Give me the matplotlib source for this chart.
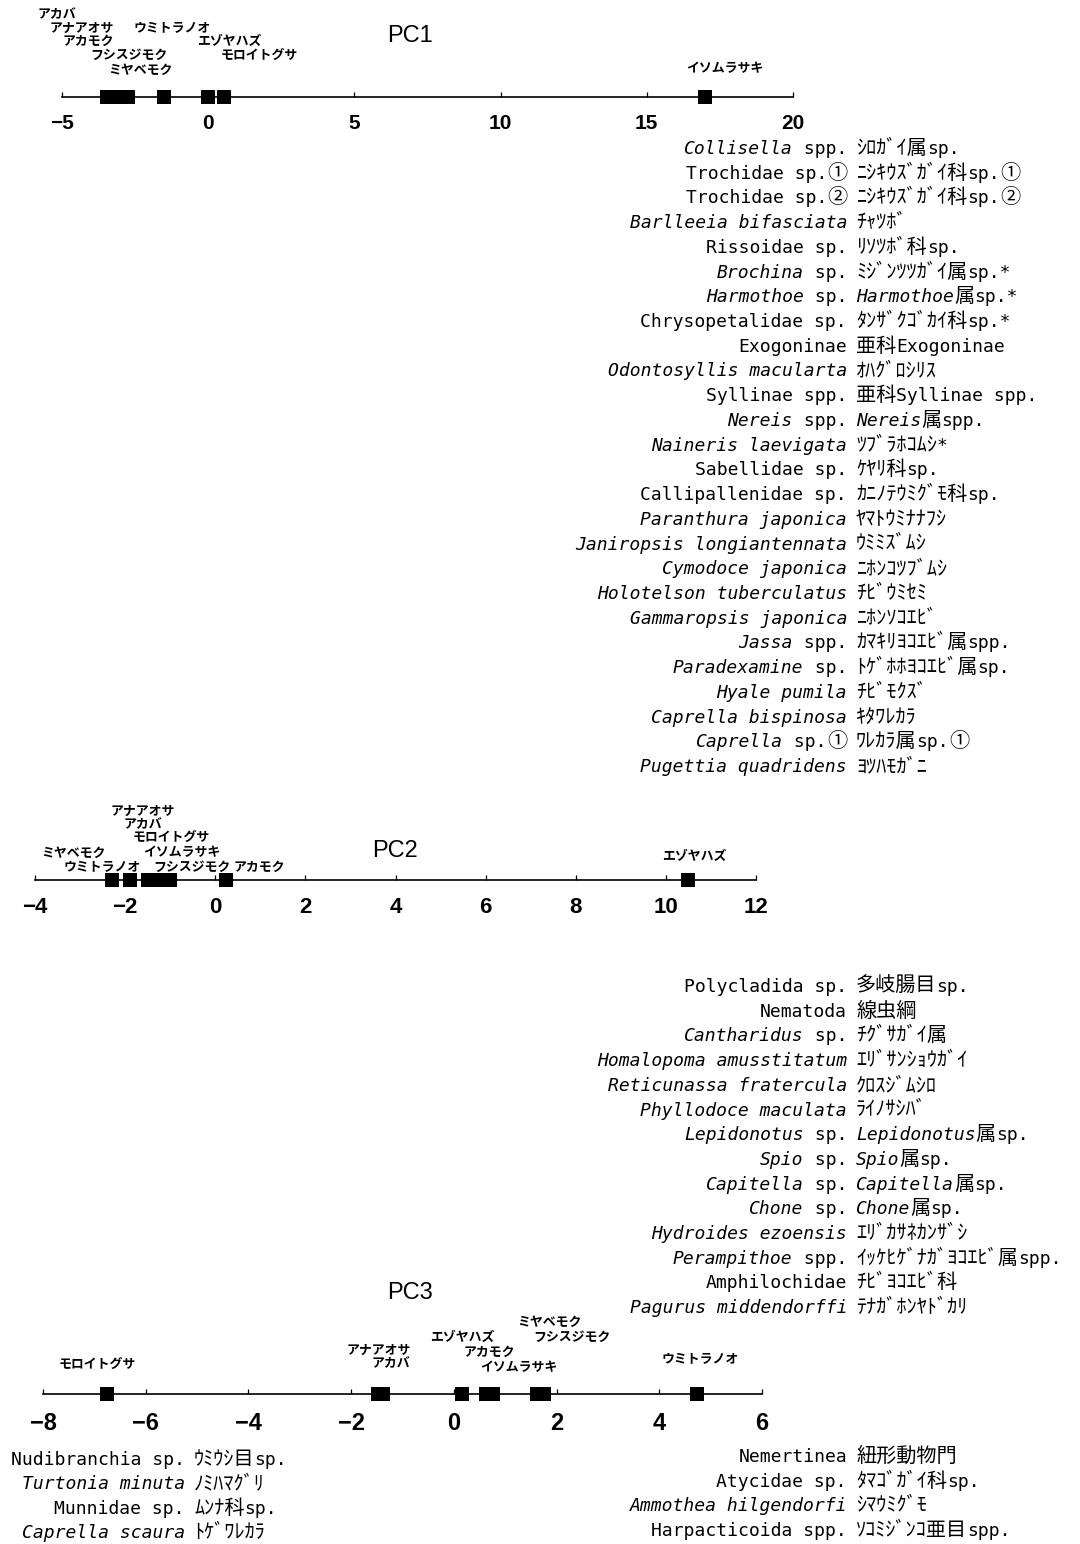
from itertools import groupby

import numpy as np
import matplotlib
matplotlib.use('Agg')
import matplotlib.pyplot as plt
from matplotlib.font_manager import FontProperties

W, H = 1080, 1544

# site scores on each principal component
pc1_sites = ['アカバ', 'アナアオサ', 'アカモク', 'フシスジモク', 'ミヤベモク',
             'ウミトラノオ', 'エゾヤハズ', 'モロイトグサ', 'イソムラサキ']
pc1_scores = [-3.45, -3.3, -3.1, -2.9, -2.75, -1.5, 0.0, 0.55, 17.0]

pc2_sites = ['ミヤベモク', 'ウミトラノオ', 'アナアオサ', 'アカバ', 'モロイトグサ',
             'イソムラサキ', 'フシスジモク', 'アカモク', 'エゾヤハズ']
pc2_scores = [-2.3, -1.9, -1.5, -1.4, -1.25, -1.1, -1.0, 0.23, 10.5]

pc3_sites = ['モロイトグサ', 'アナアオサ', 'アカバ', 'エゾヤハズ', 'アカモク',
             'イソムラサキ', 'ミヤベモク', 'フシスジモク', 'ウミトラノオ']
pc3_scores = [-6.75, -1.47, -1.38, 0.16, 0.62, 0.76, 1.62, 1.75, 4.74]

# species correlated with each axis: scientific name / Japanese name,
# italic parts are wrapped in underscores
pc1_species = [
    ('_Collisella_ spp.', 'ｼﾛｶﾞｲ属sp.'),
    ('Trochidae sp.①', 'ﾆｼｷｳｽﾞｶﾞｲ科sp.①'),
    ('Trochidae sp.②', 'ﾆｼｷｳｽﾞｶﾞｲ科sp.②'),
    ('_Barlleeia bifasciata_', 'ﾁｬﾂﾎﾞ'),
    ('Rissoidae sp.', 'ﾘｿﾂﾎﾞ科sp.'),
    ('_Brochina_ sp.', 'ﾐｼﾞﾝﾂﾂｶﾞｲ属sp.*'),
    ('_Harmothoe_ sp.', '_Harmothoe_属sp.*'),
    ('Chrysopetalidae sp.', 'ﾀﾝｻﾞｸｺﾞｶｲ科sp.*'),
    ('Exogoninae', '亜科Exogoninae'),
    ('_Odontosyllis macularta_', 'ｵﾊｸﾞﾛｼﾘｽ'),
    ('Syllinae spp.', '亜科Syllinae spp.'),
    ('_Nereis_ spp.', '_Nereis_属spp.'),
    ('_Naineris laevigata_', 'ﾂﾌﾞﾗﾎｺﾑｼ*'),
    ('Sabellidae sp.', 'ｹﾔﾘ科sp.'),
    ('Callipallenidae sp.', 'ｶﾆﾉﾃｳﾐｸﾞﾓ科sp.'),
    ('_Paranthura japonica_', 'ﾔﾏﾄｳﾐﾅﾅﾌｼ'),
    ('_Janiropsis longiantennata_', 'ｳﾐﾐｽﾞﾑｼ'),
    ('_Cymodoce japonica_', 'ﾆﾎﾝｺﾂﾌﾞﾑｼ'),
    ('_Holotelson tuberculatus_', 'ﾁﾋﾞｳﾐｾﾐ'),
    ('_Gammaropsis japonica_', 'ﾆﾎﾝｿｺｴﾋﾞ'),
    ('_Jassa_ spp.', 'ｶﾏｷﾘﾖｺｴﾋﾞ属spp.'),
    ('_Paradexamine_ sp.', 'ﾄｹﾞﾎﾎﾖｺｴﾋﾞ属sp.'),
    ('_Hyale pumila_', 'ﾁﾋﾞﾓｸｽﾞ'),
    ('_Caprella bispinosa_', 'ｷﾀﾜﾚｶﾗ'),
    ('_Caprella_ sp.①', 'ﾜﾚｶﾗ属sp.①'),
    ('_Pugettia quadridens_', 'ﾖﾂﾊﾓｶﾞﾆ'),
]

pc3_pos_species = [
    ('Polycladida sp.', '多岐腸目sp.'),
    ('Nematoda', '線虫綱'),
    ('_Cantharidus_ sp.', 'ﾁｸﾞｻｶﾞｲ属'),
    ('_Homalopoma amusstitatum_', 'ｴﾘﾞｻﾝｼｮｳｶﾞｲ'),
    ('_Reticunassa fratercula_', 'ｸﾛｽｼﾞﾑｼﾛ'),
    ('_Phyllodoce maculata_', 'ﾗｲﾉｻｼﾊﾞ'),
    ('_Lepidonotus_ sp.', '_Lepidonotus_属sp.'),
    ('_Spio_ sp.', '_Spio_属sp.'),
    ('_Capitella_ sp.', '_Capitella_属sp.'),
    ('_Chone_ sp.', '_Chone_属sp.'),
    ('_Hydroides ezoensis_', 'ｴﾘﾞｶｻﾈｶﾝｻﾞｼ'),
    ('_Perampithoe_ spp.', 'ｲｯｹﾋｹﾞﾅｶﾞﾖｺｴﾋﾞ属spp.'),
    ('Amphilochidae', 'ﾁﾋﾞﾖｺｴﾋﾞ科'),
    ('_Pagurus middendorffi_', 'ﾃﾅｶﾞﾎﾝﾔﾄﾞｶﾘ'),
]

pc3_neg_species = [
    ('Nudibranchia sp.', 'ｳﾐｳｼ目sp.'),
    ('_Turtonia minuta_', 'ﾉﾐﾊﾏｸﾞﾘ'),
    ('Munnidae sp.', 'ﾑﾝﾅ科sp.'),
    ('_Caprella scaura_', 'ﾄｹﾞﾜﾚｶﾗ'),
]

pc3_pos2_species = [
    ('Nemertinea', '紐形動物門'),
    ('Atycidae sp.', 'ﾀﾏｺﾞｶﾞｲ科sp.'),
    ('_Ammothea hilgendorfi_', 'ｼﾏｳﾐｸﾞﾓ'),
    ('Harpacticoida spp.', 'ｿｺﾐｼﾞﾝｺ亜目spp.'),
]

# label placement around each marker: (dx, dy) in pixels
pc1_offsets = [(-50, 83), (-30, 69), (-29, 56), (6, 42), (13, 27),
               (8, 69), (21, 56), (35, 42), (20, 29)]
pc2_offsets = [(-38, 27), (-27, 13), (-5, 69), (-9, 56), (12, 43),
               (16, 28), (22, 13), (34, 13), (6, 24)]
pc3_offsets = [(-10, 30), (0, 44), (8, 31), (0, 57), (4, 42),
               (26, 27), (12, 72), (28, 57), (3, 35)]

TICK_FONT = ['Liberation Sans Narrow', 'Liberation Sans', 'DejaVu Sans']
LABEL_FONT = ['Noto Sans CJK JP', 'DejaVu Sans']
LATIN_FONT = 'DejaVu Sans Mono'
CJK_FONT = 'Noto Sans CJK JP'

fig = plt.figure(figsize=(W / 100, H / 100), dpi=100, facecolor='white')


def draw_axis(y, left, right, lims, step, sites, scores, offsets,
              title, title_xy, tick_size, pad):
    ax = fig.add_axes([left / W, 1 - y / H, (right - left) / W, 0.02])
    ax.set_xlim(*lims)
    ax.set_ylim(0, 1)
    ax.patch.set_visible(False)
    for side in ('top', 'left', 'right'):
        ax.spines[side].set_visible(False)
    ax.spines['bottom'].set_linewidth(1.2)
    ax.set_yticks([])
    ax.set_xticks(np.arange(lims[0], lims[1] + step, step))
    ax.tick_params(axis='x', direction='in', length=3.8, width=0.9,
                   pad=pad, labelsize=tick_size)
    for lab in ax.get_xticklabels():
        lab.set_family(TICK_FONT)
        lab.set_fontweight('bold')
    ax.plot(scores, np.zeros(len(scores)), 's', ms=10, mew=0,
            color='black', clip_on=False, zorder=3)
    for name, score, (dx, dy) in zip(sites, scores, offsets):
        ax.annotate(name, xy=(score, 0), xytext=(dx, dy),
                    textcoords='offset pixels', ha='center', va='center',
                    fontsize=9.3, family=LABEL_FONT, fontweight='bold')
    fig.text(title_xy[0] / W, 1 - title_xy[1] / H, title, ha='center',
             va='center', fontsize=17, family=['Liberation Sans', 'DejaVu Sans'])
    return ax


draw_axis(97, 62, 793, (-5, 20), 5, pc1_sites, pc1_scores, pc1_offsets,
          'PC1', (410, 36), 15, 12.5)
draw_axis(880, 35, 756, (-4, 12), 2, pc2_sites, pc2_scores, pc2_offsets,
          'PC2', (395, 851), 16, 12.5)
draw_axis(1394, 43, 762, (-8, 6), 2, pc3_sites, pc3_scores, pc3_offsets,
          'PC3', (410, 1293), 17, 13)

# overlay in pixel coordinates for the species lists
txt = fig.add_axes([0, 0, 1, 1])
txt.set_xlim(0, W)
txt.set_ylim(H, 0)
txt.axis('off')
txt.patch.set_visible(False)

renderer = fig.canvas.get_renderer()


def font_for(italic, cjk):
    if cjk:
        return FontProperties(family=CJK_FONT, size=14.5)
    return FontProperties(family=LATIN_FONT, size=13,
                          style='italic' if italic else 'normal')


def split_runs(label):
    runs = []
    for i, part in enumerate(label.split('_')):
        italic = i % 2 == 1
        for cjk, chunk in groupby(part, key=lambda c: ord(c) > 127):
            runs.append((''.join(chunk), font_for(italic, cjk)))
    return runs


def run_width(s, prop):
    w1, _, _ = renderer.get_text_width_height_descent('|' + s + '|', prop, ismath=False)
    w0, _, _ = renderer.get_text_width_height_descent('||', prop, ismath=False)
    return w1 - w0


def draw_runs(x, y, label, ha):
    runs = split_runs(label)
    widths = [run_width(s, p) for s, p in runs]
    pos = x - sum(widths) if ha == 'right' else x
    for (s, p), w in zip(runs, widths):
        txt.text(pos, y, s, fontproperties=p, ha='left', va='baseline',
                 color='black')
        pos += w


def draw_species(rows, sep, y0, dy):
    for i, (sci, jp) in enumerate(rows):
        y = y0 + i * dy + 6
        draw_runs(sep - 1, y, sci, 'right')
        draw_runs(sep + 8, y, jp, 'left')


draw_species(pc1_species, 848, 148, 24.72)
draw_species(pc3_pos_species, 848, 986, 24.7)
draw_species(pc3_neg_species, 186, 1459, 24.4)
draw_species(pc3_pos2_species, 848, 1456, 24.7)

fig.savefig('out.png', dpi=100, facecolor='white')
